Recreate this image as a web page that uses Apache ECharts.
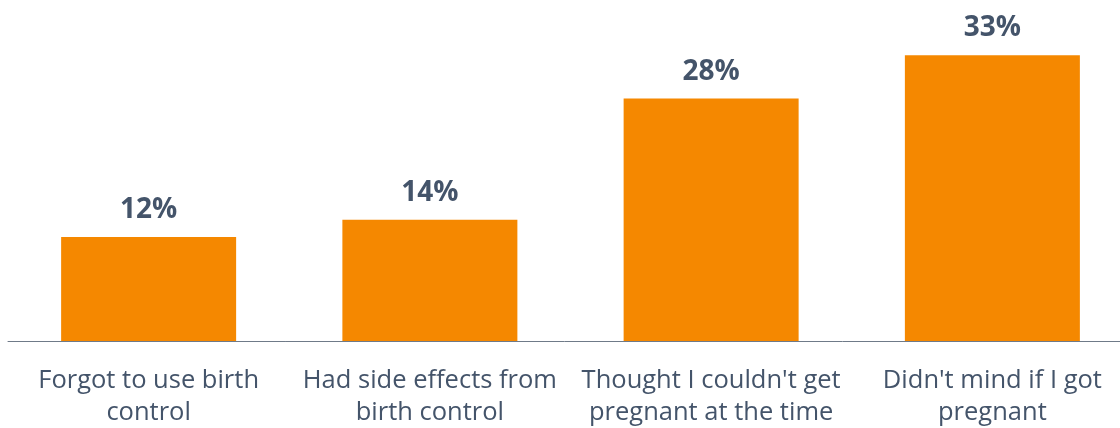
<!DOCTYPE html>
<html><head><meta charset="utf-8">
<script src="https://cdn.jsdelivr.net/npm/echarts@6/dist/echarts.min.js"></script>
<style>html,body{margin:0;padding:0;background:#fff}#c{width:1120px;height:428px}</style>
</head><body><div id="c"></div>
<script>
const categories = ["Forgot to use birth\ncontrol", "Had side effects from\nbirth control", "Thought I couldn't get\npregnant at the time", "Didn't mind if I got\npregnant"];
const values = [12, 14, 28, 33];
const chart = echarts.init(document.getElementById('c'));
chart.setOption({
  animation: false,
  grid: {left: 8, right: -13, top: 38, bottom: 87, containLabel: false, outerBoundsMode: 'none'},
  xAxis: {
    type: 'category', data: categories,
    axisLine: {lineStyle: {color: '#6F7A88', width: 1}},
    axisTick: {show: false},
    axisLabel: {color: '#44546A', fontFamily: 'Open Sans', fontSize: 25.5, lineHeight: 32, margin: 24, interval: 0}
  },
  yAxis: {type: 'value', min: 0, max: 35, show: false, splitLine: {show: false}},
  series: [{
    type: 'bar', data: values, barWidth: 175,
    itemStyle: {color: '#F58800'},
    label: {show: true, position: 'top', distance: 13, formatter: '{c}%', color: '#44546A', fontFamily: 'Open Sans', fontWeight: 'bold', fontSize: 28}
  }]
});
</script></body></html>
